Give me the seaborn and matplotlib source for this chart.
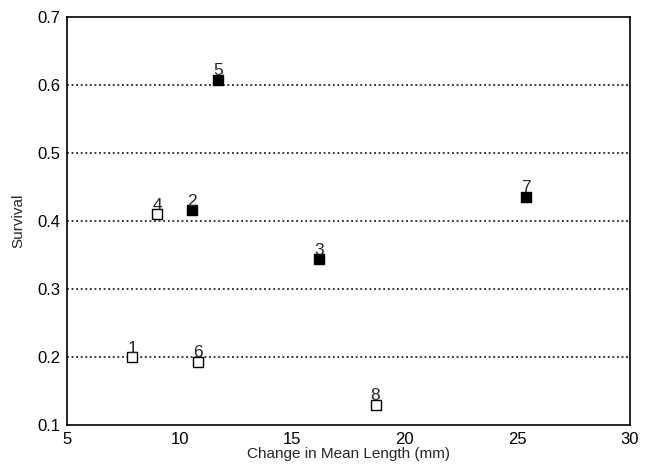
import matplotlib
matplotlib.use("Agg")
import matplotlib.pyplot as plt
import seaborn as sns
import pandas as pd

labels = ["1", "2", "3", "4", "5", "6", "7", "8"]
change_mm = [7.9, 10.55, 16.2, 9.0, 11.7, 10.8, 25.4, 18.7]
survival = [0.200, 0.416, 0.344, 0.410, 0.608, 0.193, 0.436, 0.130]
filled = [False, True, True, False, True, False, True, False]

df = pd.DataFrame({"x": change_mm, "y": survival, "label": labels, "filled": filled})

sns.set_style("white")
plt.rcParams["font.family"] = ["Liberation Sans", "DejaVu Sans"]

fig = plt.figure(figsize=(6.46, 4.72), dpi=100)
ax = fig.add_axes([67/646, 1-425/472, (630-67)/646, (425-17)/472])

for yv in [0.2, 0.3, 0.4, 0.5, 0.6]:
    ax.axhline(yv, color="black", linestyle=(0, (1.2, 1.8)), linewidth=1.1, zorder=1)

sns.scatterplot(data=df[df["filled"]], x="x", y="y", marker="s", s=60,
                color="black", edgecolor="black", linewidth=1, ax=ax, zorder=3)
sns.scatterplot(data=df[~df["filled"]], x="x", y="y", marker="s", s=60,
                facecolor="white", edgecolor="black", linewidth=1, ax=ax, zorder=3)

for xi, yi, lab in zip(change_mm, survival, labels):
    ax.text(xi, yi + 0.002, lab, ha="center", va="bottom", fontsize=12.5, zorder=4)

ax.set_xlim(5, 30)
ax.set_ylim(0.1, 0.7)
ax.set_xticks([5, 10, 15, 20, 25, 30])
ax.set_yticks([0.1, 0.2, 0.3, 0.4, 0.5, 0.6, 0.7])
ax.set_yticklabels(["0.1", "0.2", "0.3", "0.4", "0.5", "0.6", "0.7"])
ax.set_xlabel("Change in Mean Length (mm)", fontsize=11, labelpad=0)
ax.set_ylabel("Survival", fontsize=11, labelpad=8)
ax.tick_params(axis="both", direction="out", length=4, width=1, labelsize=12,
               color="black", labelcolor="black", pad=1)
for sp in ax.spines.values():
    sp.set_visible(True)
    sp.set_color("black")
    sp.set_linewidth(1.2)

fig.savefig("out.png", dpi=100)
